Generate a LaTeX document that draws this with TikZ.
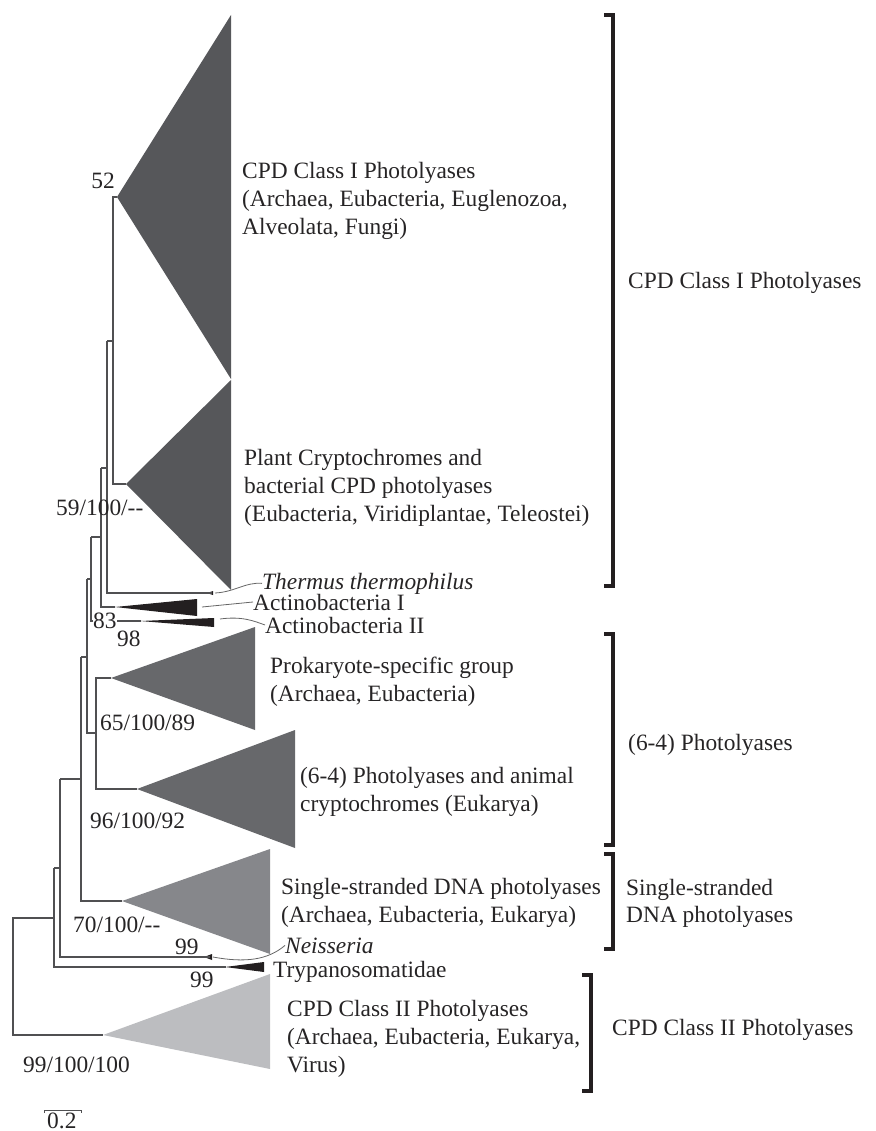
\documentclass[tikz,border=0pt]{standalone}
\usepackage{fontspec}
\setmainfont{Liberation Serif}
\definecolor{tri1}{RGB}{86,87,90}
\definecolor{tri2}{RGB}{103,104,107}
\definecolor{tri3}{RGB}{134,135,139}
\definecolor{tri4}{RGB}{188,189,192}
\definecolor{blk}{RGB}{35,31,32}
\definecolor{treec}{RGB}{80,80,82}
\definecolor{txt}{RGB}{38,36,37}
\begin{document}
\begin{tikzpicture}[x=1pt,y=-1pt,
  tree/.style={draw=treec,line width=1.1pt},
  bracket/.style={draw=blk,line width=3.3pt,line cap=butt,line join=miter},
  leader/.style={draw=gray!80!black,line width=0.8pt},
  lbl/.style={anchor=base west,inner sep=0pt,text=txt,font=\fontsize{23.4}{28}\selectfont},
  lble/.style={anchor=base east,inner sep=0pt,text=txt,font=\fontsize{23.4}{28}\selectfont}]
\useasboundingbox (0,0) rectangle (875,1131);

% ---- collapsed clades ----
\fill[tri1] (117,197) -- (231,15) -- (231,379) -- cycle;
\fill[tri1] (126,484) -- (231,380) -- (231,590) -- cycle;
\fill[blk] (115,607) -- (197,599) -- (197,616) -- cycle;
\fill[blk] (140,621) -- (214,618) -- (214,627) -- cycle;
\fill[tri2] (111,678) -- (255,627) -- (255,730) -- cycle;
\fill[tri2] (137,789) -- (295,730) -- (295,848) -- cycle;
\fill[tri3] (122,901) -- (270,849) -- (270,954) -- cycle;
\fill[blk] (225,967) -- (264,962) -- (264,972) -- cycle;
\fill[tri4] (103,1035) -- (270,974) -- (270,1069) -- cycle;
% leaf ticks
\fill[blk] (207,593) -- (213,591) -- (213,595) -- cycle;
\fill[blk] (204,957) -- (212,954) -- (212,960) -- cycle;

% ---- named tree nodes ----
\coordinate (nA) at (113,341);
\coordinate (nB) at (107,468);
\coordinate (nC) at (101,537);
\coordinate (nD) at (91,579);
\coordinate (nE) at (87,657);
\coordinate (nF) at (96,733);
\coordinate (nG) at (81,779);
\coordinate (nH) at (60,868);
\coordinate (nI) at (54,918);
\coordinate (nR) at (13,918);

\coordinate (cI) at (117,197);
\coordinate (cPlant) at (126,484);
\coordinate (lTherm) at (212,593);
\coordinate (cAct1) at (115,607);
\coordinate (cAct2) at (141,621);
\coordinate (cProk) at (111,678);
\coordinate (c64) at (137,789);
\coordinate (cSS) at (122,901);
\coordinate (lNeis) at (210,957);
\coordinate (cTryp) at (226,967);
\coordinate (cII) at (103,1035);

% ---- tree edges ----
\draw[tree] (cI) -| (nA) |- (cPlant);
\draw[tree] (nA) -- (nA -| nB);
\draw[tree] (nA -| nB) -- (nB |- lTherm) -- (lTherm);
\draw[tree] (nB) -- (nB -| nC);
\draw[tree] (nB -| nC) -- (nC |- cAct1) -- (cAct1);
\draw[tree] (nC) -- (nC -| nD);
\draw[tree] (nC -| nD) -- (nD |- cAct2) -- (cAct2);
\draw[tree] (nD) -- (nD -| nE);
\draw[tree] (nD -| nE) -- (nE |- nF) -- (nF);
\draw[tree] (cProk) -| (nF) |- (c64);
\draw[tree] (nE) -- (nE -| nG);
\draw[tree] (nE -| nG) -- (nG |- cSS) -- (cSS);
\draw[tree] (nG) -- (nG -| nH);
\draw[tree] (nG -| nH) -- (nH |- lNeis) -- (lNeis);
\draw[tree] (nH) -- (nH -| nI);
\draw[tree] (nH -| nI) -- (nI |- cTryp) -- (cTryp);
\draw[tree] (nI) -- (nR) -- (nR |- cII) -- (cII);

% ---- scale bar ----
\coordinate (sb1) at (44,1110);
\coordinate (sb2) at (81,1110);
\draw[tree,line width=0.9pt] ([yshift=-3]sb1) -- (sb1) -- (sb2) -- ([yshift=-3]sb2);
\node[lbl] (sbl) at (47,1128) {0.2};

% ---- clade labels ----
\node[lbl] (t1a) at (242,179) {CPD Class I Photolyases};
\node[lbl] (t1b) at (242,207) {(Archaea, Eubacteria, Euglenozoa,};
\node[lbl] (t1c) at (242,235) {Alveolata, Fungi)};
\node[lbl] (t2a) at (244,465) {Plant Cryptochromes and};
\node[lbl] (t2b) at (244,493) {bacterial CPD photolyases};
\node[lbl] (t2c) at (244,521) {(Eubacteria, Viridiplantae, Teleostei)};
\node[lbl] (tTh) at (262,589) {\itshape Thermus thermophilus};
\node[lbl] (tA1) at (253,610) {Actinobacteria I};
\node[lbl] (tA2) at (265,633) {Actinobacteria II};
\node[lbl] (t3a) at (270,673) {Prokaryote-specific group};
\node[lbl] (t3b) at (270,701) {(Archaea, Eubacteria)};
\node[lbl] (t4a) at (300,783) {(6-4) Photolyases and animal};
\node[lbl] (t4b) at (300,811) {cryptochromes (Eukarya)};
\node[lbl] (t5a) at (281,894) {Single-stranded DNA photolyases};
\node[lbl] (t5b) at (281,922) {(Archaea, Eubacteria, Eukarya)};
\node[lbl] (tNe) at (285,953) {\itshape Neisseria};
\node[lbl] (tTr) at (273,977) {Trypanosomatidae};
\node[lbl] (t6a) at (287,1016) {CPD Class II Photolyases};
\node[lbl] (t6b) at (287,1044) {(Archaea, Eubacteria, Eukarya,};
\node[lbl] (t6c) at (287,1072) {Virus)};

% ---- leaders ----
\draw[leader] (215,593) .. controls (235,592) and (245,582) .. (tTh.west);
\draw[leader] (202,607) -- (tA1.west);
\draw[leader] (220,619) .. controls (242,616) and (254,621) .. (tA2.west);
\draw[leader] (213,957) .. controls (245,963) and (268,960) .. (tNe.west);

% ---- support values ----
\node[lble] (s52) at (115,189) {52};
\node[lbl] (s59) at (56,515) {59/100/-{}-};
\node[lbl,fill=white] (s83) at (93,628) {83};
\node[lbl] (s98) at (117,646) {98};
\node[lbl] (s65) at (100,730) {65/100/89};
\node[lbl] (s96) at (90,828) {96/100/92};
\node[lbl] (s70) at (73,932) {70/100/-{}-};
\node[lbl] (s99a) at (175,954) {99};
\node[lbl] (s99b) at (190,987) {99};
\node[lbl] (s99c) at (23,1072) {99/100/100};

% ---- brackets ----
\draw[bracket] (604,15) -- (613,15) -- (613,586) -- (604,586);
\draw[bracket] (604,634) -- (613,634) -- (613,845) -- (604,845);
\draw[bracket] (604,854) -- (613,854) -- (613,949) -- (604,949);
\draw[bracket] (582,975) -- (591,975) -- (591,1091) -- (582,1091);
\node[lbl] (r1) at (628,289) {CPD Class I Photolyases};
\node[lbl] (r2) at (628,750) {(6-4) Photolyases};
\node[lbl] (r3a) at (626,895) {Single-stranded};
\node[lbl] (r3b) at (626,922) {DNA photolyases};
\node[lbl] (r4) at (612,1035) {CPD Class II Photolyases};
\end{tikzpicture}
\end{document}
